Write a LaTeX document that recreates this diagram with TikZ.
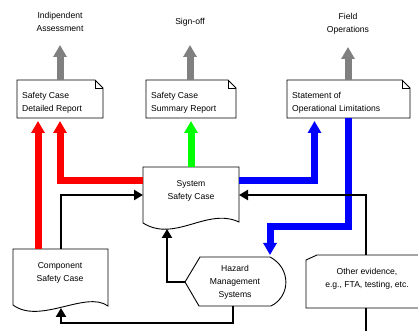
\documentclass[tikz,border=0pt]{standalone}
\usepackage{fontspec}
\setmainfont{Liberation Sans}
\usetikzlibrary{arrows.meta}
\tikzset{>=stealth}
\definecolor{arrgray}{RGB}{128,128,128}
\definecolor{arrred}{RGB}{255,0,0}
\definecolor{arrgreen}{RGB}{0,255,0}
\definecolor{arrblue}{RGB}{0,0,255}

\begin{document}
\begin{tikzpicture}[x=1pt,y=-1pt,
  lbl/.style={font=\fontsize{8.6}{12.8}\selectfont,inner sep=0pt,align=center},
  notelbl/.style={lbl,align=left,anchor=west},
  outline/.style={draw,line width=.9pt,fill=white},
  bigarrow/.style={line width=7pt,-{Triangle[width=13pt,length=12pt]}},
  link/.style={line width=2.4pt,-{Triangle[width=10pt,length=9pt]}}]
\useasboundingbox (0,0) rectangle (418,331);
\clip (0,0) rectangle (418,331);
% report notes
\foreach \xa/\xb in {17/103,146/236,287/410}{
  \draw[outline] (\xa,80) -- (\xb-8,80) -- (\xb,88) -- (\xb,118) -- (\xa,118) -- cycle;
  \draw[line width=.6pt] (\xb-8,80) -- (\xb-8,88) -- (\xb,88);
}
% documents and other shapes
\draw[outline] (143,167) -- (239,167) -- (239,222) .. controls (207,207) and (175,243) .. (143,223) -- cycle;
\draw[outline] (13,249) -- (108,249) -- (108,306) .. controls (86,290) and (40,325) .. (13,305) -- cycle;
\draw[outline] (185,282) -- (200,257) -- (270,257) .. controls (291,268) and (291,296) .. (271,306) -- (199,306) -- cycle;
\draw[outline] (306,260) -- (317,255) -- (430,255) -- (430,308) -- (306,308) -- cycle;
% texts
\node[lbl] (ia) at (60,22) {Indipendent\\Assessment};
\node[lbl] (so) at (190,22) {Sign-off};
\node[lbl] (fo) at (348,24) {Field\\Operations};
\node[notelbl] (rep1) at (22,103) {Safety Case\\Detailed Report};
\node[notelbl] (rep2) at (151,103) {Safety Case\\Summary Report};
\node[notelbl] (rep3) at (292,103) {Statement of\\Operational Limitations};
\node[lbl] (sys) at (191,191) {System\\Safety Case};
\node[lbl] (comp) at (60,273) {Component\\Safety Case};
\node[lbl] (hms) at (235,282) {Hazard\\Management\\Systems};
\node[lbl] (oth) at (367,279) {Other evidence,\\e.g., FTA, testing, etc.};
% connection points
\coordinate (iaS) at (60,45);
\coordinate (soS) at (190,45);
\coordinate (foS) at (348,47);
\coordinate (rep1N) at (60,80);
\coordinate (rep2N) at (190,80);
\coordinate (rep3N) at (348,80);
\coordinate (rep1SW) at (38,121);
\coordinate (rep1SE) at (60,121);
\coordinate (rep2S) at (191,121);
\coordinate (rep3SW) at (314.5,121);
\coordinate (rep3SE) at (348,118);
\coordinate (sysN) at (191,167);
\coordinate (sysW) at (143,181);
\coordinate (sysE) at (239,181);
\coordinate (sysWin) at (143,195);
\coordinate (sysEin) at (239,195);
\coordinate (sysS) at (167,229);
\coordinate (compN1) at (38,249);
\coordinate (compN2) at (61,249);
\coordinate (compS) at (61,308);
\coordinate (hmsN) at (270,255);
\coordinate (hmsW) at (185,282);
\coordinate (hmsS) at (233,306);
\coordinate (othN) at (366,255);
\coordinate (othS) at (366,308);
% outputs
\draw[bigarrow,arrgray] (rep1N) -- (iaS);
\draw[bigarrow,arrgray] (rep2N) -- (soS);
\draw[bigarrow,arrgray] (rep3N) -- (foS);
\draw[bigarrow,arrred] (compN1) -- (rep1SW);
\draw[bigarrow,arrred] (sysW) -| (rep1SE);
\draw[bigarrow,arrgreen] (sysN) -- (rep2S);
\draw[bigarrow,arrblue] (sysE) -| (rep3SW);
\draw[bigarrow,arrblue] (rep3SE) -- ++(0,109) -| (hmsN);
% evidence flows
\draw[link] (compN2) |- (sysWin);
\draw[link] (othN) |- (sysEin);
\draw[link] (hmsW) -| (sysS);
\draw[link] (hmsS) -- ++(0,17) -| (compS);
\draw[line width=2.4pt] (othS) -- ++(0,30);
\end{tikzpicture}
\end{document}
